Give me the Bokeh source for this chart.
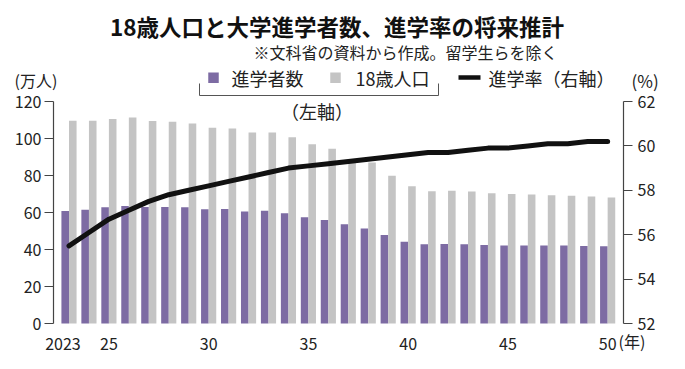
from bokeh.plotting import figure
from bokeh.models import Range1d, LinearAxis, FixedTicker, Label, ColumnDataSource
from bokeh.transform import dodge
from bokeh.embed import file_html
from bokeh.resources import INLINE

# ---- data ----
years = list(range(2023, 2051))
enrollees = [60.8, 61.5, 62.8, 63.5, 63.0, 63.0, 62.8, 61.7, 61.9, 60.5,
             61.0, 59.6, 57.4, 56.0, 53.7, 51.4, 47.8, 44.2, 42.8, 43.0,
             42.8, 42.4, 42.1, 42.1, 42.1, 42.1, 41.9, 41.7]
population = [109.6, 109.6, 110.5, 111.4, 109.4, 109.0, 108.1, 105.8, 105.4, 103.2,
              103.2, 100.7, 96.9, 94.5, 87.0, 87.0, 79.9, 74.2, 71.5, 71.7,
              71.3, 70.4, 70.0, 69.7, 69.3, 69.0, 68.6, 68.1]
rate = [55.5, 56.1, 56.7, 57.1, 57.5, 57.8, 58.0, 58.2, 58.4, 58.6,
        58.8, 59.0, 59.1, 59.2, 59.3, 59.4, 59.5, 59.6, 59.7, 59.7,
        59.8, 59.9, 59.9, 60.0, 60.1, 60.1, 60.2, 60.2]
left_ticks = [0, 20, 40, 60, 80, 100, 120]
right_ticks = [52, 54, 56, 58, 60, 62]
x_ticks = [2025, 2030, 2035, 2040, 2045, 2050]
x_tick_labels = ["25", "30", "35", "40", "45", "50"]
first_tick = [2023]
first_tick_label = ["2023"]

FONT = "Noto Sans CJK JP"
PURPLE = "#7d6ba3"
GRAY = "#c4c4c4"
AXIS = "#444444"

# ---- geometry (page pixels) ----
W, H = 685, 369
AX_L, AX_R = 53, 623        # left / right axis lines
BASE = 323                  # value 0 (left) / 52 (right)
XS = 19.95                  # px per year
YS = 222 / 120              # px per left unit
RS = 222 / 10               # px per right unit
X_2023 = 68.5               # centre of the first year group


def X(px):
    return 2023 + (px - X_2023) / XS


def Y(py):
    return (BASE - py) / YS


def R(py):
    return 52 + (BASE - py) / RS


p = figure(width=W, height=H, output_backend="svg", toolbar_location=None,
           title=None, x_range=Range1d(X(0), X(W)), y_range=Range1d(Y(H), Y(0)),
           min_border_left=0, min_border_right=0, min_border_bottom=0,
           min_border_top=0)
p.extra_y_ranges = {"pct": Range1d(R(H), R(0))}
p.extra_x_ranges = {"first": Range1d(X(0) + 6 / XS, X(W) + 6 / XS)}
p.outline_line_color = None
p.xgrid.grid_line_color = None
p.ygrid.grid_line_color = None
p.background_fill_color = "white"
p.border_fill_color = "white"

src = ColumnDataSource(dict(year=years, enr=enrollees, pop=population, rate=rate))
p.vbar(x=dodge("year", -0.19, range=p.x_range), top="enr", width=0.38,
       source=src, fill_color=PURPLE, line_color=None)
p.vbar(x=dodge("year", 0.19, range=p.x_range), top="pop", width=0.38,
       source=src, fill_color=GRAY, line_color=None)
p.line("year", "rate", source=src, y_range_name="pct", line_width=5,
       line_color="#111111", line_join="round", line_cap="round")


# ---- axes ----
def style_axis(ax):
    ax.axis_line_color = AXIS
    ax.axis_line_width = 1.2
    ax.major_tick_line_color = AXIS
    ax.major_tick_line_width = 1.2
    ax.major_tick_out = 9
    ax.major_tick_in = 0
    ax.minor_tick_out = 0
    ax.minor_tick_in = 0
    ax.major_label_text_font = FONT
    ax.major_label_text_font_size = "16px"
    ax.major_label_text_color = "#222222"

ly = p.yaxis[0]
style_axis(ly)
ly.ticker = FixedTicker(ticks=left_ticks)
ly.bounds = (0, 120)
ly.major_label_standoff = 3
ly.fixed_location = X(AX_L)

ry = LinearAxis(y_range_name="pct", ticker=FixedTicker(ticks=right_ticks),
                bounds=(52, 62))
style_axis(ry)
ry.major_label_standoff = 5
ry.fixed_location = X(AX_R)
p.add_layout(ry, "right")


def style_x(ax):
    ax.axis_line_color = None
    ax.major_tick_line_color = None
    ax.minor_tick_line_color = None
    ax.major_label_text_font = FONT
    ax.major_label_text_font_size = "16px"
    ax.major_label_text_color = "#222222"
    ax.major_label_standoff = 8
    ax.fixed_location = 0

xa = p.xaxis[0]
xa.ticker = FixedTicker(ticks=x_ticks)
xa.major_label_overrides = {t: s for t, s in zip(x_ticks, x_tick_labels)}
style_x(xa)

xa2 = LinearAxis(x_range_name="first", ticker=FixedTicker(ticks=first_tick))
xa2.major_label_overrides = {t: s for t, s in zip(first_tick, first_tick_label)}
style_x(xa2)
p.add_layout(xa2, "below")


# ---- texts ----
def label(text, px, py, size, align="left", bold=False, color="#222222"):
    p.add_layout(Label(x=X(px), y=Y(py), text=text, text_font=FONT,
                       text_font_size=f"{size}px", text_align=align,
                       text_baseline="middle", text_color=color,
                       text_font_style="bold" if bold else "normal"))

label("18歳人口と大学進学者数、進学率の将来推計", 336.5, 25.5, 22.5, "center", True, "#111111")
label("※文科省の資料から作成。留学生らを除く", 557, 51.5, 16, "right")
label("(万人)", 14, 79, 16)
label("(%)", 631, 80, 17)
label("(年)", 618, 340, 16)

# legend
p.scatter(x=[X(213)], y=[Y(77.3)], marker="square", size=10.5,
          fill_color=PURPLE, line_color=None)
label("進学者数", 231, 77.5, 18)
p.scatter(x=[X(335)], y=[Y(77.3)], marker="square", size=10.5,
          fill_color=GRAY, line_color=None)
label("18歳人口", 355, 77.5, 18)
p.line(x=[X(458), X(480)], y=[Y(77), Y(77)], line_width=4.5, line_color="#111111")
label("進学率（右軸）", 488, 77.5, 18)
p.line(x=[X(199), X(199), X(438), X(438)], y=[Y(83), Y(95), Y(95), Y(83)],
       line_width=1, line_color="#555555")
label("（左軸）", 316.5, 110.5, 18, "center")

open("out.html", "w").write(file_html(p, INLINE))
